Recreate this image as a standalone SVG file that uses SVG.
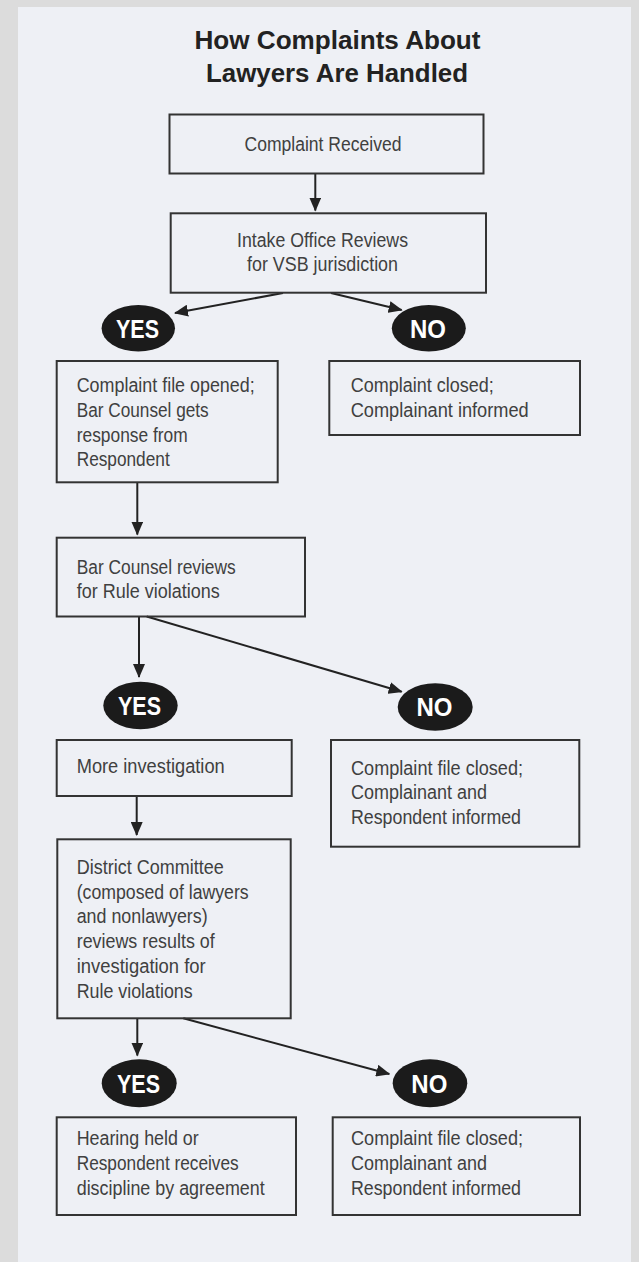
<svg xmlns="http://www.w3.org/2000/svg" width="639" height="1262" viewBox="0 0 639 1262">
  <defs>
    <marker id="arrow" markerUnits="userSpaceOnUse" markerWidth="14" markerHeight="12" refX="13" refY="6" orient="auto">
      <path d="M0,0 L14,6 L0,12 z" fill="#222"/>
    </marker>
    <style>
      .box { fill: none; stroke: #333; stroke-width: 2; }
      .oval { fill: #1b1b1b; }
      .oval-t { font-family: "Liberation Sans", Arial, sans-serif; font-weight: bold; font-size: 25px; fill: #ffffff; text-anchor: middle; }
      .t { font-family: "Liberation Sans", Arial, sans-serif; font-size: 20px; fill: #404040; }
      .tc { text-anchor: middle; }
      .title { font-family: "Liberation Sans", Arial, sans-serif; font-weight: bold; font-size: 26px; fill: #222; text-anchor: middle; }
      .conn line { stroke: #222; stroke-width: 2; marker-end: url(#arrow); }
    </style>
  </defs>

  <rect x="0" y="0" width="639" height="1262" fill="#dcdcdc"/>
  <rect x="18" y="7" width="613" height="1255" fill="#eef0f5"/>

  <g id="title">
    <text class="title" x="337.5" y="49" textLength="286" lengthAdjust="spacingAndGlyphs">How Complaints About</text>
    <text class="title" x="337" y="81.7" textLength="262" lengthAdjust="spacingAndGlyphs">Lawyers Are Handled</text>
  </g>

  <g id="connectors" class="conn">
    <line x1="315.3" y1="173.3" x2="315.3" y2="210.5"/>
    <line x1="283" y1="293" x2="175" y2="313"/>
    <line x1="331" y1="293" x2="401.7" y2="310"/>
    <line x1="137.3" y1="482.3" x2="137.3" y2="534.5"/>
    <line x1="139" y1="616.5" x2="139" y2="677"/>
    <line x1="146.7" y1="616.5" x2="401.7" y2="691.7"/>
    <line x1="136.7" y1="796" x2="136.7" y2="835"/>
    <line x1="137.3" y1="1018.3" x2="137.3" y2="1055.5"/>
    <line x1="183.3" y1="1018.3" x2="389.3" y2="1074"/>
  </g>

  <g id="complaint-received">
    <rect class="box" x="169.5" y="114.5" width="314" height="59"/>
    <text class="t tc" x="323" y="150.7" textLength="157" lengthAdjust="spacingAndGlyphs">Complaint Received</text>
  </g>

  <g id="intake-review">
    <rect class="box" x="170.7" y="213.3" width="315.3" height="79.4"/>
    <text class="t tc" x="322.5" y="247" textLength="171" lengthAdjust="spacingAndGlyphs">Intake Office Reviews</text>
    <text class="t tc" x="322.5" y="271" textLength="151" lengthAdjust="spacingAndGlyphs">for VSB jurisdiction</text>
  </g>

  <g id="yes-1">
    <ellipse class="oval" cx="138.3" cy="328.3" rx="36.7" ry="23.3"/>
    <text class="oval-t" x="137.5" y="337.5" textLength="43" lengthAdjust="spacingAndGlyphs">YES</text>
  </g>

  <g id="no-1">
    <ellipse class="oval" cx="428.8" cy="328.3" rx="37" ry="23.3"/>
    <text class="oval-t" x="428" y="337.5" textLength="36" lengthAdjust="spacingAndGlyphs">NO</text>
  </g>

  <g id="file-opened">
    <rect class="box" x="56.7" y="361" width="221" height="121.3"/>
    <text class="t" x="76.7" y="391.7" textLength="178" lengthAdjust="spacingAndGlyphs">Complaint file opened;</text>
    <text class="t" x="76.7" y="417" textLength="132" lengthAdjust="spacingAndGlyphs">Bar Counsel gets</text>
    <text class="t" x="76.7" y="441.5" textLength="111" lengthAdjust="spacingAndGlyphs">response from</text>
    <text class="t" x="76.7" y="466" textLength="93" lengthAdjust="spacingAndGlyphs">Respondent</text>
  </g>

  <g id="closed-1">
    <rect class="box" x="329.3" y="361" width="250.7" height="74"/>
    <text class="t" x="350.7" y="391.7" textLength="143" lengthAdjust="spacingAndGlyphs">Complaint closed;</text>
    <text class="t" x="350.7" y="417.3" textLength="178" lengthAdjust="spacingAndGlyphs">Complainant informed</text>
  </g>

  <g id="bar-counsel-review">
    <rect class="box" x="56.7" y="537.7" width="248.3" height="78.8"/>
    <text class="t" x="76.7" y="574.3" textLength="159" lengthAdjust="spacingAndGlyphs">Bar Counsel reviews</text>
    <text class="t" x="76.7" y="598" textLength="143" lengthAdjust="spacingAndGlyphs">for Rule violations</text>
  </g>

  <g id="yes-2">
    <ellipse class="oval" cx="140.5" cy="705.5" rx="37.2" ry="23.8"/>
    <text class="oval-t" x="139.5" y="714.8" textLength="43" lengthAdjust="spacingAndGlyphs">YES</text>
  </g>

  <g id="no-2">
    <ellipse class="oval" cx="435.2" cy="707" rx="37.5" ry="23.7"/>
    <text class="oval-t" x="434.5" y="716.3" textLength="36" lengthAdjust="spacingAndGlyphs">NO</text>
  </g>

  <g id="more-investigation">
    <rect class="box" x="56.7" y="740" width="235" height="56"/>
    <text class="t" x="76.7" y="773.3" textLength="148" lengthAdjust="spacingAndGlyphs">More investigation</text>
  </g>

  <g id="closed-2">
    <rect class="box" x="331" y="740" width="248.3" height="106.7"/>
    <text class="t" x="351" y="775" textLength="172" lengthAdjust="spacingAndGlyphs">Complaint file closed;</text>
    <text class="t" x="351" y="799" textLength="136" lengthAdjust="spacingAndGlyphs">Complainant and</text>
    <text class="t" x="351" y="823.5" textLength="170" lengthAdjust="spacingAndGlyphs">Respondent informed</text>
  </g>

  <g id="district-committee">
    <rect class="box" x="57.3" y="839.3" width="233.4" height="179"/>
    <text class="t" x="76.7" y="874.3" textLength="147" lengthAdjust="spacingAndGlyphs">District Committee</text>
    <text class="t" x="76.7" y="898.8" textLength="172" lengthAdjust="spacingAndGlyphs">(composed of lawyers</text>
    <text class="t" x="76.7" y="923.3" textLength="131" lengthAdjust="spacingAndGlyphs">and nonlawyers)</text>
    <text class="t" x="76.7" y="948" textLength="138" lengthAdjust="spacingAndGlyphs">reviews results of</text>
    <text class="t" x="76.7" y="973" textLength="129" lengthAdjust="spacingAndGlyphs">investigation for</text>
    <text class="t" x="76.7" y="998" textLength="116" lengthAdjust="spacingAndGlyphs">Rule violations</text>
  </g>

  <g id="yes-3">
    <ellipse class="oval" cx="139.2" cy="1083.3" rx="37.5" ry="24"/>
    <text class="oval-t" x="138.5" y="1092.6" textLength="43" lengthAdjust="spacingAndGlyphs">YES</text>
  </g>

  <g id="no-3">
    <ellipse class="oval" cx="430" cy="1083.3" rx="37.3" ry="24"/>
    <text class="oval-t" x="429.3" y="1092.6" textLength="36" lengthAdjust="spacingAndGlyphs">NO</text>
  </g>

  <g id="hearing">
    <rect class="box" x="56.7" y="1117.3" width="239.3" height="97.7"/>
    <text class="t" x="76.7" y="1145" textLength="122" lengthAdjust="spacingAndGlyphs">Hearing held or</text>
    <text class="t" x="76.7" y="1170" textLength="162" lengthAdjust="spacingAndGlyphs">Respondent receives</text>
    <text class="t" x="76.7" y="1195" textLength="188" lengthAdjust="spacingAndGlyphs">discipline by agreement</text>
  </g>

  <g id="closed-3">
    <rect class="box" x="332.7" y="1117.3" width="247.3" height="97.7"/>
    <text class="t" x="351" y="1145" textLength="172" lengthAdjust="spacingAndGlyphs">Complaint file closed;</text>
    <text class="t" x="351" y="1170" textLength="136" lengthAdjust="spacingAndGlyphs">Complainant and</text>
    <text class="t" x="351" y="1195" textLength="170" lengthAdjust="spacingAndGlyphs">Respondent informed</text>
  </g>
</svg>
